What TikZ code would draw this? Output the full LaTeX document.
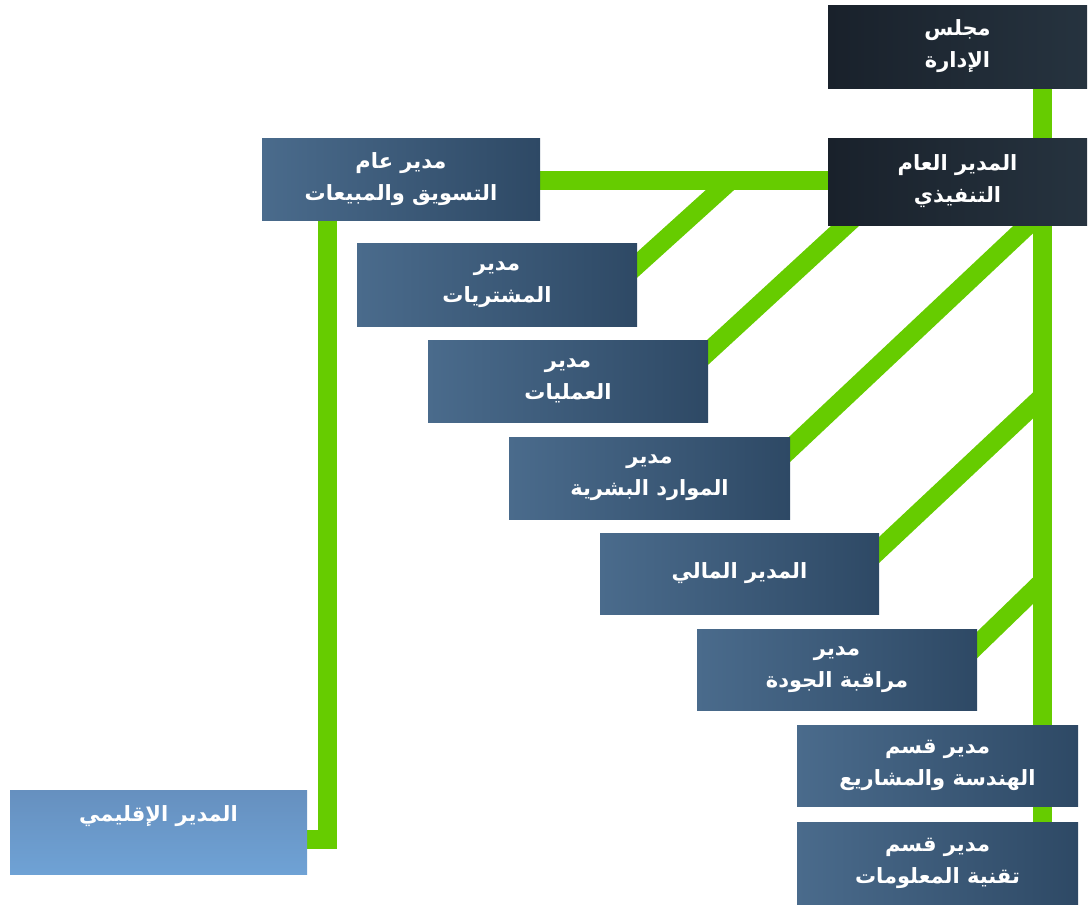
\documentclass[tikz,border=0pt]{standalone}
\usepackage{fontspec}
\newfontfamily\arabicfont[Script=Arabic]{DejaVu Sans}
\TeXXeTstate=1
\usetikzlibrary{calc,backgrounds}
\definecolor{linkgreen}{HTML}{66CC00}
\definecolor{boardleft}{HTML}{19212B}
\definecolor{boardright}{HTML}{26333F}
\definecolor{deptleft}{HTML}{4A6B8C}
\definecolor{deptright}{HTML}{2E4965}
\definecolor{regiontop}{HTML}{6690BF}
\definecolor{regionbottom}{HTML}{6FA2D5}
\newcommand{\artxt}[1]{\beginR#1\endR}
\tikzset{box/.style={anchor=north west,minimum width=280pt,minimum height=82pt,inner sep=0pt,outer sep=0pt,text=white,align=center,font=\arabicfont\bfseries\fontsize{21}{32}\selectfont},
         top box/.style={box,left color=boardleft,right color=boardright},
         dept box/.style={box,left color=deptleft,right color=deptright},
         region box/.style={box,top color=regiontop,bottom color=regionbottom},
         link/.style={draw=linkgreen,line width=19pt}}

\begin{document}
\begin{tikzpicture}[x=1pt,y=-1pt]
    \useasboundingbox (0,0) rectangle (1089,906);
    % boxes
    \node[top box,minimum width=259pt,minimum height=83pt] (board) at (828,5) {\artxt{مجلس}\\\artxt{الإدارة}};
    \node[top box,minimum width=259pt,minimum height=87pt] (ceo) at (828,138) {\artxt{المدير  العام}\\\artxt{التنفيذي}};
    \node[dept box,minimum width=278pt] (mkt) at (262,138) {\artxt{مدير عام}\\\artxt{التسويق والمبيعات}};
    \node[dept box,minimum height=83pt] (pur) at (357,243) {\artxt{مدير}\\\artxt{المشتريات}};
    \node[dept box] (ops) at (428,340) {\artxt{مدير}\\\artxt{العمليات}};
    \node[dept box,minimum width=281pt] (hr) at (509,437) {\artxt{مدير}\\\artxt{الموارد البشرية}};
    \node[dept box,minimum width=279pt,minimum height=81pt] (fin) at (600,533) {\artxt{المدير المالي}};
    \node[dept box,minimum height=81pt] (qual) at (697,629) {\artxt{مدير}\\\artxt{مراقبة الجودة}};
    \node[dept box,minimum width=281pt,minimum height=81pt] (eng) at (797,725) {\artxt{مدير قسم}\\\artxt{الهندسة والمشاريع}};
    \node[dept box,minimum width=281pt] (it) at (797,822) {\artxt{مدير قسم}\\\artxt{تقنية المعلومات}};
    \node[region box,minimum width=297pt,minimum height=84pt] (reg) at (10,790) {\artxt{المدير الإقليمي}\\[4pt]};

    \coordinate (trunk) at (1042,0);
    \coordinate (hj) at (731,180);
    \coordinate (finj) at (1042,397);
    \coordinate (qualj) at (1042,582);
    \coordinate (regj) at (327,839);

    % connectors
    \begin{scope}[on background layer]
        \draw[link] (board.south -| trunk) -- (ceo.north -| trunk);
        \draw[link] (ceo.south -| trunk) -- (it.north -| trunk);
        \draw[link] (ceo.west |- hj) -- (mkt.east |- hj);
        \draw[link,shorten >=-16pt] (hj) -- ($(pur.north east)+(0,22)$);
        \draw[link,shorten <=-16pt,shorten >=-16pt] ($(ceo.south west)+(18,0)$) -- ($(ops.north east)+(0,12)$);
        \draw[link,shorten <=-16pt,shorten >=-16pt] ($(ceo.south -| trunk)+(-14,0)$) -- ($(hr.north east)+(0,12)$);
        \draw[link,shorten >=-16pt] (finj) -- ($(fin.north east)+(0,17)$);
        \draw[link,shorten >=-16pt] (qualj) -- ($(qual.north east)+(0,16)$);
        \draw[link] (mkt.south -| regj) -- (regj) -- (reg.east |- regj);
    \end{scope}
\end{tikzpicture}
\end{document}
